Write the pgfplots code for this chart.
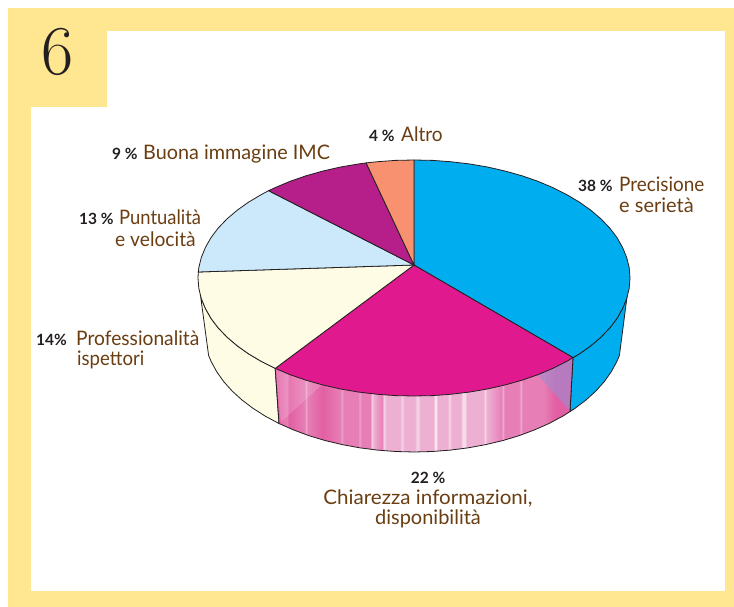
\documentclass[border=0pt]{standalone}
\usepackage{graphicx}
\usepackage{pgfplots}
\pgfplotsset{compat=1.18}
\usepackage{fontspec}
\setsansfont{Lato}
\definecolor{frame}{HTML}{FFE791}
\definecolor{lab}{HTML}{6B3E12}
\definecolor{num}{HTML}{231F20}
\definecolor{cblue}{HTML}{00AEEF}
\definecolor{cmag}{HTML}{E01A8E}
\definecolor{ccream}{HTML}{FFFCE6}
\definecolor{csky}{HTML}{CBE9FA}
\definecolor{cpurple}{HTML}{B61E8A}
\definecolor{corange}{HTML}{F79170}
\definecolor{clilac}{HTML}{9C8CD0}
\definecolor{pA}{HTML}{E25FA3}
\definecolor{pB}{HTML}{E77FB6}
\definecolor{pC}{HTML}{EDB0D3}
\definecolor{pD}{HTML}{F7DDEC}
\pgfdeclarehorizontalshading{sidepink}{100bp}{
  color(0bp)=(pA); color(25bp)=(pA); color(27bp)=(pB); color(27.3bp)=(pA);
  color(30bp)=(pB); color(30.2bp)=(pC); color(30.4bp)=(pB); color(33bp)=(pA);
  color(36bp)=(pB); color(36.2bp)=(pC); color(36.4bp)=(pB); color(39bp)=(pB);
  color(39.2bp)=(pC); color(39.4bp)=(pB); color(41bp)=(pB); color(41.2bp)=(pD);
  color(41.5bp)=(pC); color(43bp)=(pB); color(43.2bp)=(pD); color(43.6bp)=(pC);
  color(46bp)=(pC); color(46.3bp)=(pD); color(46.6bp)=(pC); color(48.5bp)=(pC);
  color(48.8bp)=(pD); color(49.4bp)=(pC); color(51.6bp)=(pC); color(51.9bp)=(white);
  color(52.2bp)=(pC); color(54bp)=(pC); color(54.2bp)=(pD); color(54.6bp)=(pC);
  color(56.2bp)=(pC); color(56.4bp)=(pD); color(56.9bp)=(pD); color(57.1bp)=(pC);
  color(60bp)=(pC); color(60.2bp)=(pD); color(60.5bp)=(pC); color(63bp)=(pB);
  color(63.2bp)=(pC); color(63.5bp)=(pB); color(66bp)=(pB); color(66.2bp)=(pC);
  color(66.5bp)=(pB); color(70bp)=(pB); color(72bp)=(pA); color(75bp)=(pA);
  color(100bp)=(pA)}
\tikzset{
  pct/.style={inner sep=0pt, anchor=base west, text=num, font=\sffamily\bfseries\fontsize{15.5}{15.5}\selectfont},
  txt/.style={inner sep=0pt, anchor=base west, text=lab, font=\sffamily\fontsize{20}{20}\selectfont},
}
\begin{document}
\begin{tikzpicture}
\begin{axis}[
    scale only axis,
    width=734pt, height=607pt,
    xmin=0, xmax=734, ymin=0, ymax=607,
    y dir=reverse,
    hide axis,
    clip=false,
]
% page background, keeps the margin outside the frame
\addplot[fill=white, draw=none] coordinates {(0,0) (734,0) (734,607) (0,607)} -- cycle;
% frame
\addplot[fill=frame, draw=none] coordinates {(8,8) (734,8) (734,607) (8,607)} -- cycle;
\addplot[fill=white, draw=none] coordinates {(31,31) (725,31) (725,591) (31,591)} -- cycle;
\addplot[fill=frame, draw=none] coordinates {(8,8) (107,8) (107,107) (8,107)} -- cycle;

% side of the pie
\addplot[fill=ccream, draw=num, line width=0.8pt] coordinates {
  (200.3,294) (201.3,298.5) (205.4,308.5) (211,318.4) (218.2,327.9) (226.9,337)
  (237.1,345.7) (248.5,353.8) (261.3,361.4) (275.2,368.4)
  (279,423.5) (265.5,416.3) (253.1,408.4) (242,400) (232.1,391) (223.7,381.6)
  (216.7,371.7) (211.2,361.6) (208.6,355.4)} -- cycle;
\addplot[fill=cblue, draw=num, line width=0.8pt] coordinates {
  (573,357.6) (579.5,353.8) (590.9,345.7) (601.1,337) (609.8,327.9) (617,318.4)
  (622.6,308.5) (627,297)
  (619.4,355.4) (616.8,361.6) (611.3,371.7) (604.3,381.6) (595.9,391) (586,400)
  (574.9,408.4) (570,411.6)} -- cycle;
\addplot[shading=sidepink, draw=none] coordinates {
  (275.2,368.4) (290.1,374.7) (306,380.2) (322.7,384.9) (340.1,388.9) (358.1,392)
  (376.5,394.2) (395.2,395.6) (414,396) (432.8,395.6) (451.5,394.2) (469.9,392)
  (487.9,388.9) (505.3,384.9) (522,380.2) (537.9,374.7) (552.8,368.4) (566.7,361.4)
  (573,357.6)
  (570,411.6) (562.5,416.3) (549,423.5) (534.5,429.9) (519,435.7) (502.7,440.6)
  (485.8,444.6) (468.4,447.8) (450.5,450.1) (432.3,451.5) (414,452) (395.7,451.5)
  (377.5,450.1) (359.6,447.8) (342.2,444.6) (325.3,440.6) (309,435.7) (293.5,429.9)
  (279,423.5)} -- cycle;
% lighter triangle on the left, lilac cast on the right
\addplot[fill=white, fill opacity=0.15, draw=none] coordinates {
  (275.2,368.4) (290.1,374.7) (306,380.2) (322,384.7) (281,422)} -- cycle;
\addplot[fill=clilac, fill opacity=0.6, draw=none] coordinates {
  (537.9,374.7) (552.8,368.4) (566.7,361.4) (572,358.2) (569,410)} -- cycle;
\addplot[draw=num, line width=0.8pt] coordinates {
  (275.2,368.4) (279,423.5) (293.5,429.9) (309,435.7) (325.3,440.6) (342.2,444.6)
  (359.6,447.8) (377.5,450.1) (395.7,451.5) (414,452) (432.3,451.5) (450.5,450.1)
  (468.4,447.8) (485.8,444.6) (502.7,440.6) (519,435.7) (534.5,429.9) (549,423.5)
  (562.5,416.3) (570,411.6) (573,357.6)};

% top of the pie, clockwise from the top: 38 22 14 13 9 4 %
\addplot[fill=cblue, draw=num, line width=0.8pt] coordinates {
  (414,265) (414,160) (432.8,160.4) (451.5,161.8) (469.9,164) (487.9,167.1)
  (505.3,171.1) (522,175.8) (537.9,181.3) (552.8,187.6) (566.7,194.6) (579.5,202.2)
  (590.9,210.3) (601.1,219) (609.8,228.1) (617,237.6) (622.6,247.5) (626.7,257.5)
  (629.2,267.7) (630,278) (629.2,288.3) (626.7,298.5) (622.6,308.5) (617,318.4)
  (609.8,327.9) (601.1,337) (590.9,345.7) (579.5,353.8) (573,357.6)} -- cycle;
\addplot[fill=cmag, draw=num, line width=0.8pt] coordinates {
  (414,265) (573,357.6) (566.7,361.4) (552.8,368.4) (537.9,374.7) (522,380.2)
  (505.3,384.9) (487.9,388.9) (469.9,392) (451.5,394.2) (432.8,395.6) (414,396)
  (395.2,395.6) (376.5,394.2) (358.1,392) (340.1,388.9) (322.7,384.9) (306,380.2)
  (290.1,374.7) (275.2,368.4)} -- cycle;
\addplot[fill=ccream, draw=num, line width=0.8pt] coordinates {
  (414,265) (275.2,368.4) (261.3,361.4) (248.5,353.8) (237.1,345.7) (226.9,337)
  (218.2,327.9) (211,318.4) (205.4,308.5) (201.3,298.5) (198.8,288.3) (198,278)
  (198.3,272)} -- cycle;
\addplot[fill=csky, draw=num, line width=0.8pt] coordinates {
  (414,265) (198.3,272) (198.8,267.7) (201.3,257.5) (205.4,247.5) (211,237.6)
  (218.2,228.1) (226.9,219) (237.1,210.3) (248.5,202.2) (261.3,194.6) (268.6,190.7)} -- cycle;
\addplot[fill=cpurple, draw=num, line width=0.8pt] coordinates {
  (414,265) (268.6,190.7) (275.2,187.6) (290.1,181.3) (306,175.8) (322.7,171.1)
  (340.1,167.1) (358.1,164) (366.1,162.9)} -- cycle;
\addplot[fill=corange, draw=num, line width=0.8pt] coordinates {
  (414,265) (366.1,162.9) (376.5,161.8) (395.2,160.4) (414,160)} -- cycle;

% labels
\node[inner sep=0pt, anchor=base, font=\rmfamily\fontsize{70}{70}\selectfont, text=num] at (axis cs:57.5,75) {6};

\node[pct] at (axis cs:369,142) {4 \%};
\node[txt] at (axis cs:401,142) {\scalebox{0.95}[1]{Altro}};

\node[pct] at (axis cs:578,192) {38 \%};
\node[txt] at (axis cs:619,192) {\scalebox{0.945}[1]{Precisione}};
\node[txt] at (axis cs:619,212) {e serietà};

\node[pct] at (axis cs:112,160) {9 \%};
\node[txt] at (axis cs:143,160) {\scalebox{0.99}[1]{Buona immagine IMC}};

\node[pct] at (axis cs:79,225) {13 \%};
\node[txt] at (axis cs:119,225) {\scalebox{0.92}[1]{Puntualità}};
\node[txt] at (axis cs:115,246) {\scalebox{0.96}[1]{e velocità}};

\node[pct] at (axis cs:36,345) {14\%};
\node[txt] at (axis cs:76,345) {\scalebox{0.96}[1]{Professionalità}};
\node[txt] at (axis cs:77,365) {\scalebox{0.93}[1]{ispettori}};

\node[pct, anchor=base] at (axis cs:428,483) {22 \%};
\node[txt, anchor=base] at (axis cs:428,504) {\scalebox{1.03}[1]{Chiarezza informazioni,}};
\node[txt, anchor=base] at (axis cs:428,524) {disponibilità};
\end{axis}
\end{tikzpicture}
\end{document}
